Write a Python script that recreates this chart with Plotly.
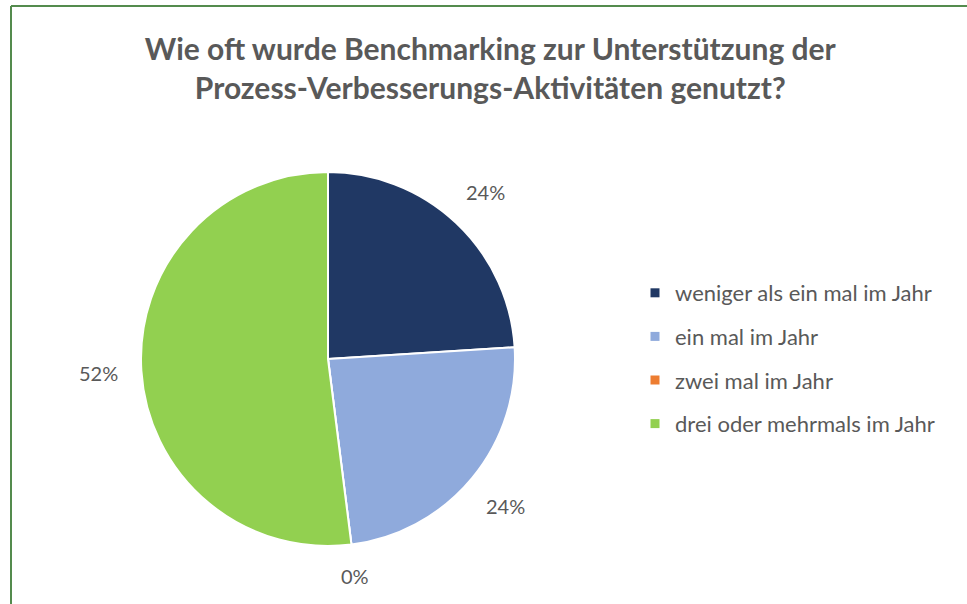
import math
import plotly.graph_objects as go

categories = ["weniger als ein mal im Jahr", "ein mal im Jahr", "zwei mal im Jahr", "drei oder mehrmals im Jahr"]
values = [6, 6, 0, 13]
colors = ["#203864", "#8FAADC", "#ED7D31", "#92D050"]
title_text = "Wie oft wurde Benchmarking zur Unterstützung der<br>Prozess-Verbesserungs-Aktivitäten genutzt?"

W, H = 967, 604
cx, cy, r = 328, 359, 187
GRAY = "#595959"

fig = go.Figure()
fig.add_trace(go.Pie(
    labels=categories,
    values=values,
    marker=dict(colors=colors, line=dict(color="white", width=2)),
    sort=False, direction="clockwise", rotation=0,
    textinfo="none", showlegend=False, hoverinfo="label+percent",
    domain=dict(x=[(cx - r) / W, (cx + r) / W], y=[(H - cy - r) / H, (H - cy + r) / H]),
))

# legend entries (one group each so spacing can match)
for cat, col in zip(categories, colors):
    fig.add_trace(go.Scatter(
        x=[None], y=[None], mode="markers", name=cat, legendgroup=cat,
        marker=dict(symbol="square", size=9, color=col), hoverinfo="skip",
    ))

# data labels placed outside each slice, Excel-style
total = sum(values)
annotations = []
cum = 0.0
for v in values:
    frac = v / total
    mid = (cum + frac / 2) * 2 * math.pi
    cum += frac
    txt = f"{round(frac * 100):d}%"
    hw = 7.5 * len(txt)
    hh = 10
    s, c = math.sin(mid), math.cos(mid)
    d = r + 20 + hw * abs(s) + hh * abs(c)
    px = cx + d * s
    py = cy - d * c
    annotations.append(dict(
        x=px / W, y=1 - py / H, xref="paper", yref="paper", text=txt, showarrow=False,
        xanchor="center", yanchor="middle",
        font=dict(family="Lato", size=20, color=GRAY),
    ))

fig.update_layout(
    width=W, height=H,
    margin=dict(l=0, r=0, t=0, b=0),
    paper_bgcolor="white", plot_bgcolor="white",
    xaxis=dict(visible=False), yaxis=dict(visible=False),
    title=dict(text=title_text, x=0.507, xanchor="center", y=1 - 60 / H, yanchor="top",
               font=dict(family="Lato", size=30, color=GRAY, weight="bold")),
    legend=dict(x=635 / W, y=1 - 272 / H, xanchor="left", yanchor="top",
                font=dict(family="Lato", size=22, color=GRAY), itemwidth=30,
                tracegroupgap=12, bgcolor="rgba(0,0,0,0)"),
    annotations=annotations,
    shapes=[
        dict(type="line", xref="paper", yref="paper", x0=11 / W, x1=1, y0=1 - 6 / H, y1=1 - 6 / H,
             line=dict(color="#548B4E", width=2)),
        dict(type="line", xref="paper", yref="paper", x0=11 / W, x1=11 / W, y0=0, y1=1 - 6 / H,
             line=dict(color="#548B4E", width=2)),
    ],
)

fig.write_html("out.html", config={"displayModeBar": False},
               post_script="document.body.style.margin='0';")
